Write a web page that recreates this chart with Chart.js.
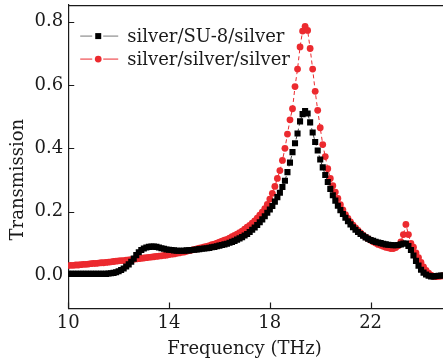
<!DOCTYPE html>
<html>
<head>
<meta charset="utf-8">
<script src="https://cdn.jsdelivr.net/npm/chart.js@4.4.1/dist/chart.umd.min.js"></script>
<style>
  html, body { margin: 0; padding: 0; background: #fff; overflow: hidden; width: 443px; height: 362px; }
</style>
</head>
<body>
<canvas id="chart" width="448" height="362"></canvas>
<script>
// frequency grid (THz)
const frequency = [
  10.0, 10.1, 10.2, 10.3, 10.4, 10.5, 10.6, 10.7, 10.8, 10.9,
  11.0, 11.1, 11.2, 11.3, 11.4, 11.5, 11.6, 11.7, 11.8, 11.9,
  12.0, 12.1, 12.2, 12.3, 12.4, 12.5, 12.6, 12.7, 12.8, 12.9,
  13.0, 13.1, 13.2, 13.3, 13.4, 13.5, 13.6, 13.7, 13.8, 13.9,
  14.0, 14.1, 14.2, 14.3, 14.4, 14.5, 14.6, 14.7, 14.8, 14.9,
  15.0, 15.1, 15.2, 15.3, 15.4, 15.5, 15.6, 15.7, 15.8, 15.9,
  16.0, 16.1, 16.2, 16.3, 16.4, 16.5, 16.6, 16.7, 16.8, 16.9,
  17.0, 17.1, 17.2, 17.3, 17.4, 17.5, 17.6, 17.7, 17.8, 17.9,
  18.0, 18.1, 18.2, 18.3, 18.4, 18.5, 18.6, 18.7, 18.8, 18.9,
  19.0, 19.1, 19.2, 19.3, 19.4, 19.5, 19.6, 19.7, 19.8, 19.9,
  20.0, 20.1, 20.2, 20.3, 20.4, 20.5, 20.6, 20.7, 20.8, 20.9,
  21.0, 21.1, 21.2, 21.3, 21.4, 21.5, 21.6, 21.7, 21.8, 21.9,
  22.0, 22.1, 22.2, 22.3, 22.4, 22.5, 22.6, 22.7, 22.8, 22.9,
  23.0, 23.1, 23.2, 23.3, 23.4, 23.5, 23.6, 23.7, 23.8, 23.9,
  24.0, 24.1, 24.2, 24.3, 24.4, 24.5, 24.6, 24.7, 24.8, 24.9
];

// silver/SU-8/silver (black squares)
const su8Transmission = [
  0.004, 0.004, 0.004, 0.004, 0.004, 0.004, 0.004, 0.004, 0.004, 0.004,
  0.004, 0.004, 0.004, 0.004, 0.004, 0.004, 0.005, 0.006, 0.007, 0.009,
  0.012, 0.016, 0.021, 0.027, 0.034, 0.042, 0.052, 0.063, 0.072, 0.079,
  0.084, 0.087, 0.089, 0.090, 0.090, 0.089, 0.087, 0.085, 0.083, 0.081,
  0.080, 0.079, 0.078, 0.077, 0.077, 0.077, 0.077, 0.078, 0.078, 0.079,
  0.080, 0.081, 0.082, 0.083, 0.084, 0.085, 0.086, 0.088, 0.089, 0.091,
  0.093, 0.095, 0.097, 0.099, 0.102, 0.105, 0.108, 0.112, 0.116, 0.120,
  0.125, 0.130, 0.136, 0.143, 0.150, 0.158, 0.167, 0.176, 0.186, 0.197,
  0.207, 0.218, 0.232, 0.246, 0.260, 0.278, 0.298, 0.325, 0.355, 0.388,
  0.416, 0.447, 0.485, 0.508, 0.518, 0.510, 0.482, 0.450, 0.420, 0.393,
  0.365, 0.340, 0.316, 0.294, 0.272, 0.252, 0.235, 0.219, 0.205, 0.193,
  0.181, 0.170, 0.160, 0.151, 0.143, 0.136, 0.130, 0.124, 0.119, 0.115,
  0.111, 0.108, 0.105, 0.103, 0.101, 0.099, 0.097, 0.096, 0.095, 0.094,
  0.094, 0.095, 0.097, 0.100, 0.100, 0.092, 0.079, 0.062, 0.045, 0.030,
  0.017, 0.008, 0.002, -0.002, -0.004, -0.004, -0.003, -0.002, -0.001, -0.001
];

// silver/silver/silver (red circles)
const silverTransmission = [
  0.030, 0.031, 0.031, 0.032, 0.032, 0.033, 0.034, 0.034, 0.035, 0.036,
  0.037, 0.037, 0.038, 0.039, 0.039, 0.040, 0.041, 0.042, 0.043, 0.044,
  0.045, 0.046, 0.046, 0.047, 0.048, 0.049, 0.050, 0.051, 0.052, 0.053,
  0.054, 0.055, 0.056, 0.057, 0.058, 0.059, 0.060, 0.061, 0.062, 0.063,
  0.065, 0.066, 0.067, 0.069, 0.070, 0.072, 0.073, 0.075, 0.077, 0.079,
  0.081, 0.083, 0.085, 0.087, 0.089, 0.091, 0.093, 0.096, 0.098, 0.101,
  0.104, 0.107, 0.110, 0.113, 0.117, 0.121, 0.125, 0.129, 0.134, 0.139,
  0.145, 0.151, 0.157, 0.164, 0.171, 0.180, 0.189, 0.199, 0.210, 0.223,
  0.240, 0.258, 0.280, 0.305, 0.330, 0.362, 0.400, 0.445, 0.490, 0.525,
  0.595, 0.650, 0.720, 0.770, 0.785, 0.772, 0.715, 0.650, 0.580, 0.520,
  0.465, 0.412, 0.374, 0.336, 0.305, 0.282, 0.262, 0.242, 0.222, 0.206,
  0.191, 0.179, 0.168, 0.158, 0.149, 0.141, 0.133, 0.126, 0.120, 0.115,
  0.110, 0.105, 0.101, 0.097, 0.094, 0.091, 0.088, 0.086, 0.084, 0.084,
  0.087, 0.093, 0.105, 0.128, 0.160, 0.128, 0.100, 0.088, 0.070, 0.055,
  0.040, 0.026, 0.015, 0.006, 0.000, -0.004, -0.005, -0.004, -0.003, -0.002
];

const seriesNames = ['silver/SU-8/silver', 'silver/silver/silver'];
const xTickValues = [10, 14, 18, 22];
const yTickValues = [0.0, 0.2, 0.4, 0.6, 0.8];
// trailing spaces nudge the centred titles to where the original sits
const xTitle = 'Frequency (THz)    ';
const yTitle = 'Transmission        ';

const FONT = "'DejaVu Serif', serif";
const INK = '#1a1a1a';
const RED = '#ec2a2f';

function toPoints(values) {
  return frequency.map((f, i) => ({ x: f, y: values[i] }));
}

// inward tick marks + top frame line
const frameAndTicks = {
  id: 'frameAndTicks',
  beforeDatasetsDraw(chart) {
    const { ctx, chartArea: a, scales } = chart;
    ctx.save();
    ctx.strokeStyle = INK;
    ctx.lineWidth = 1.2;
    ctx.beginPath();
    ctx.moveTo(a.left, a.top + 0.5);
    ctx.lineTo(a.right, a.top + 0.5);
    xTickValues.forEach(v => {
      const px = Math.round(scales.x.getPixelForValue(v)) + 0.5;
      ctx.moveTo(px, a.bottom);
      ctx.lineTo(px, a.bottom - 6);
    });
    yTickValues.forEach(v => {
      const py = Math.round(scales.y.getPixelForValue(v)) + 0.5;
      ctx.moveTo(a.left, py);
      ctx.lineTo(a.left + 6, py);
    });
    ctx.stroke();
    ctx.restore();
  }
};

// legend drawn inside the plot, top-left
const insideLegend = {
  id: 'insideLegend',
  afterDraw(chart) {
    const { ctx, chartArea: a } = chart;
    ctx.save();
    ctx.font = '18px ' + FONT;
    ctx.textBaseline = 'middle';
    chart.data.datasets.forEach((ds, i) => {
      const y = a.top + 31 + i * 23;
      const x0 = a.left + 12;
      ctx.strokeStyle = i === 0 ? '#777777' : RED;
      ctx.lineWidth = 1;
      ctx.beginPath();
      ctx.moveTo(x0, y); ctx.lineTo(x0 + 12, y);
      ctx.moveTo(x0 + 23, y); ctx.lineTo(x0 + 38, y);
      ctx.stroke();
      ctx.fillStyle = ds.pointBackgroundColor;
      ctx.beginPath();
      if (ds.pointStyle === 'rect') {
        ctx.rect(x0 + 15, y - 3, 6, 6);
      } else {
        ctx.arc(x0 + 18, y, 3.4, 0, Math.PI * 2);
      }
      ctx.fill();
      ctx.fillStyle = INK;
      ctx.fillText(seriesNames[i], x0 + 47, y + 1);
    });
    ctx.restore();
  }
};

new Chart(document.getElementById('chart'), {
  type: 'line',
  data: {
    datasets: [
      {
        label: seriesNames[0],
        data: toPoints(su8Transmission),
        borderColor: '#444444',
        borderWidth: 1,
        borderDash: [4, 3],
        pointStyle: 'rect',
        pointRadius: 4.3,
        pointBorderWidth: 0,
        pointBackgroundColor: '#000000',
        clip: 0
      },
      {
        label: seriesNames[1],
        data: toPoints(silverTransmission),
        borderColor: RED,
        borderWidth: 1,
        borderDash: [4, 3],
        pointStyle: 'circle',
        pointRadius: 3.4,
        pointBorderWidth: 0,
        pointBackgroundColor: RED,
        clip: 0
      }
    ]
  },
  options: {
    responsive: false,
    animation: false,
    layout: { padding: { left: 3, top: 5, right: 0, bottom: 2 } },
    plugins: {
      legend: { display: false },
      tooltip: { enabled: false }
    },
    scales: {
      x: {
        type: 'linear',
        min: 10,
        max: 24.9,
        afterBuildTicks: scale => { scale.ticks = xTickValues.map(v => ({ value: v })); },
        grid: { display: false, drawTicks: false },
        border: { display: true, color: INK, width: 1.2 },
        ticks: {
          padding: 4,
          color: INK,
          font: { family: FONT, size: 18, lineHeight: 1.2 },
          callback: v => String(v)
        },
        title: {
          display: true,
          text: xTitle,
          color: INK,
          font: { family: FONT, size: 18, lineHeight: 1.0 },
          padding: { top: 2, bottom: 2 }
        }
      },
      y: {
        type: 'linear',
        min: -0.105,
        max: 0.852,
        afterBuildTicks: scale => { scale.ticks = yTickValues.map(v => ({ value: v })); },
        grid: { display: false, drawTicks: false },
        border: { display: true, color: INK, width: 1.2 },
        ticks: {
          padding: 5,
          color: INK,
          font: { family: FONT, size: 18, lineHeight: 0.01 },
          callback: v => Number(v).toFixed(1)
        },
        title: {
          display: true,
          text: yTitle,
          color: INK,
          font: { family: FONT, size: 18, lineHeight: 1.2 },
          padding: { top: 5, bottom: 0 }
        }
      }
    }
  },
  plugins: [frameAndTicks, insideLegend]
});
</script>
</body>
</html>
